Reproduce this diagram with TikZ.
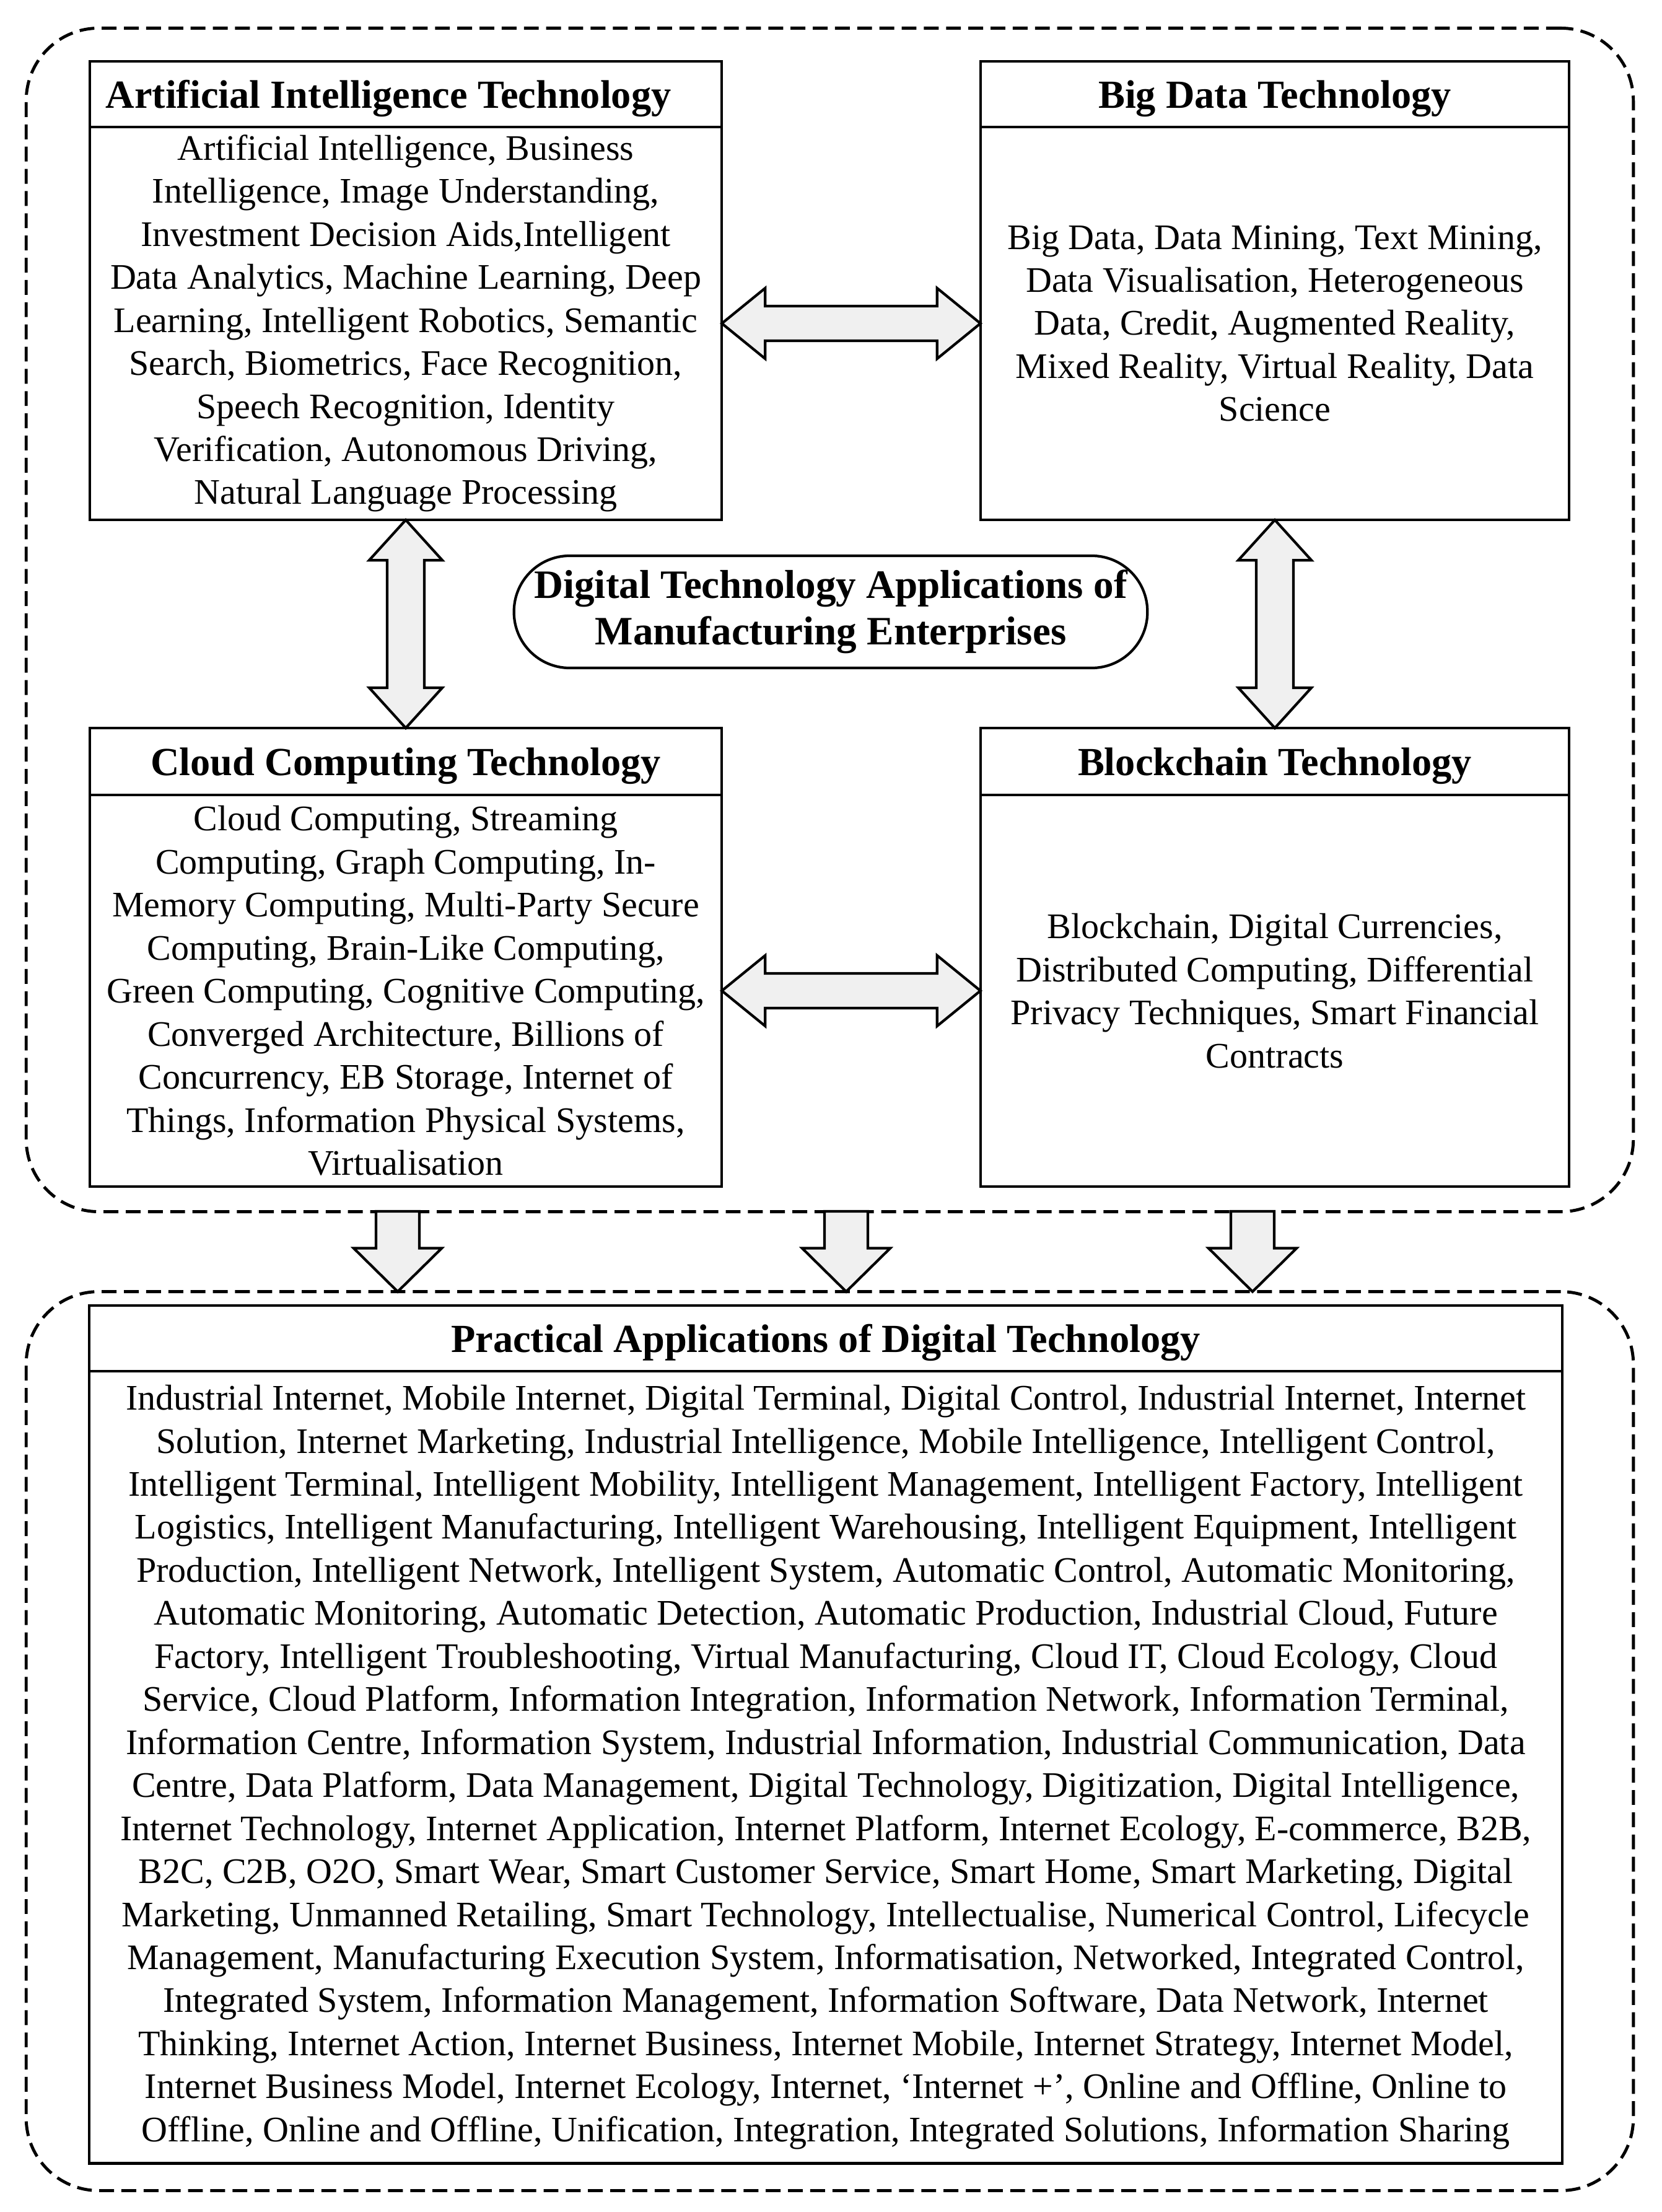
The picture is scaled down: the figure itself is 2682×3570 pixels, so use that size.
\documentclass[tikz,border=0pt]{standalone}
\usepackage{fontspec}
\setmainfont{Liberation Serif}
\usetikzlibrary{calc}
\tikzset{
 boxline/.style={draw=black, line width=1.2pt, inner sep=0pt, outer sep=0pt, fill=white},
 headbox/.style={boxline, font=\fontsize{18.3}{21.4}\selectfont\bfseries, align=center, text depth=0pt},
 bodybox/.style={boxline, font=\fontsize{16.5}{19.75}\selectfont, align=center},
 dashbox/.style={draw=black, line width=1.4pt, dash pattern=on 6.8pt off 3.4pt, rounded corners=1.17cm, inner sep=0pt, outer sep=0pt},
 titlebox/.style={boxline, rounded corners=0.9cm, font=\fontsize{18.5}{21.4}\selectfont\bfseries, align=center},
 blockarrow/.style={draw=black, line width=1.2pt, fill=black!6, line join=miter},
}
\newcommand{\HArr}[2]{\draw[blockarrow] (#1) -- ($(#1)+(70,-57)$) -- ($(#1)+(70,-28)$) -- ($(#2)+(-70,-28)$) -- ($(#2)+(-70,-57)$) -- (#2) -- ($(#2)+(-70,57)$) -- ($(#2)+(-70,28)$) -- ($(#1)+(70,28)$) -- ($(#1)+(70,57)$) -- cycle;}
\newcommand{\VArr}[2]{\draw[blockarrow] (#1) -- ($(#1)+(59,65)$) -- ($(#1)+(30,65)$) -- ($(#2)+(30,-65)$) -- ($(#2)+(59,-65)$) -- (#2) -- ($(#2)+(-59,-65)$) -- ($(#2)+(-30,-65)$) -- ($(#1)+(-30,65)$) -- ($(#1)+(-59,65)$) -- cycle;}
\newcommand{\DArr}[2]{\draw[blockarrow] ($(#1)+(-35,0)$) -- ($(#2)+(-35,-70)$) -- ($(#2)+(-71,-70)$) -- (#2) -- ($(#2)+(71,-70)$) -- ($(#2)+(35,-70)$) -- ($(#1)+(35,0)$) -- cycle;}
\begin{document}
\begin{tikzpicture}[x=0.01cm, y=-0.01cm]
\useasboundingbox (0,0) rectangle (2682,3570);
% dashed groups
\node[dashbox, minimum width=25.93cm, minimum height=19.09cm] (upper) at (1339.5,1000.5) {};
\node[dashbox, minimum width=25.93cm, minimum height=14.50cm] (lower) at (1339.5,2810) {};
% AI
\node[headbox, minimum width=10.2cm, minimum height=1.06cm] (aiH) at (655,152) {Artificial Intelligence Technology\hspace*{0.56cm}};
\node[bodybox, minimum width=10.2cm, minimum height=6.34cm] (aiB) at (655,522) {Artificial Intelligence, Business\\Intelligence, Image Understanding,\\Investment Decision Aids,Intelligent\\Data Analytics, Machine Learning, Deep\\Learning, Intelligent Robotics, Semantic\\Search, Biometrics, Face Recognition,\\Speech Recognition, Identity\\Verification, Autonomous Driving,\\Natural Language Processing};
% Big Data
\node[headbox, minimum width=9.50cm, minimum height=1.06cm] (bdH) at (2058,152) {Big Data Technology};
\node[bodybox, minimum width=9.50cm, minimum height=6.34cm] (bdB) at (2058,522) {Big Data, Data Mining, Text Mining,\\Data Visualisation, Heterogeneous\\Data, Credit, Augmented Reality,\\Mixed Reality, Virtual Reality, Data\\Science};
% Cloud
\node[headbox, minimum width=10.2cm, minimum height=1.08cm] (ccH) at (655,1229) {Cloud Computing Technology};
\node[bodybox, minimum width=10.2cm, minimum height=6.32cm] (ccB) at (655,1599) {Cloud Computing, Streaming\\Computing, Graph Computing, In-\\Memory Computing, Multi-Party Secure\\Computing, Brain-Like Computing,\\Green Computing, Cognitive Computing,\\Converged Architecture, Billions of\\Concurrency, EB Storage, Internet of\\Things, Information Physical Systems,\\Virtualisation};
% Blockchain
\node[headbox, minimum width=9.50cm, minimum height=1.08cm] (bcH) at (2058,1229) {Blockchain Technology};
\node[bodybox, minimum width=9.50cm, minimum height=6.32cm] (bcB) at (2058,1599) {Blockchain, Digital Currencies,\\Distributed Computing, Differential\\Privacy Techniques, Smart Financial\\Contracts};
% centre title
\node[titlebox, minimum width=10.22cm, minimum height=1.81cm] (title) at (1341,987.5) {Digital Technology Applications of\\Manufacturing Enterprises};
% practical
\node[headbox, minimum width=23.76cm, minimum height=1.06cm] (paH) at (1333,2160) {Practical Applications of Digital Technology};
\node[bodybox, minimum width=23.76cm, minimum height=12.78cm] (paB) at (1333,2852) {Industrial Internet, Mobile Internet, Digital Terminal, Digital Control, Industrial Internet, Internet\\
Solution, Internet Marketing, Industrial Intelligence, Mobile Intelligence, Intelligent Control,\\
Intelligent Terminal, Intelligent Mobility, Intelligent Management, Intelligent Factory, Intelligent\\
Logistics, Intelligent Manufacturing, Intelligent Warehousing, Intelligent Equipment, Intelligent\\
Production, Intelligent Network, Intelligent System, Automatic Control, Automatic Monitoring,\\
Automatic Monitoring, Automatic Detection, Automatic Production, Industrial Cloud, Future\\
Factory, Intelligent Troubleshooting, Virtual Manufacturing, Cloud IT, Cloud Ecology, Cloud\\
Service, Cloud Platform, Information Integration, Information Network, Information Terminal,\\
Information Centre, Information System, Industrial Information, Industrial Communication, Data\\
Centre, Data Platform, Data Management, Digital Technology, Digitization, Digital Intelligence,\\
Internet Technology, Internet Application, Internet Platform, Internet Ecology, E-commerce, B2B,\\
B2C, C2B, O2O, Smart Wear, Smart Customer Service, Smart Home, Smart Marketing, Digital\\
Marketing, Unmanned Retailing, Smart Technology, Intellectualise, Numerical Control, Lifecycle\\
Management, Manufacturing Execution System, Informatisation, Networked, Integrated Control,\\
Integrated System, Information Management, Information Software, Data Network, Internet\\
Thinking, Internet Action, Internet Business, Internet Mobile, Internet Strategy, Internet Model,\\
Internet Business Model, Internet Ecology, Internet, ‘Internet +’, Online and Offline, Online to\\
Offline, Online and Offline, Unification, Integration, Integrated Solutions, Information Sharing};
% connectors
\HArr{aiB.east}{bdB.west}
\HArr{ccB.east}{bcB.west}
\VArr{aiB.south}{ccH.north}
\VArr{bdB.south}{bcH.north}
\coordinate (s1) at (642,1955);
\coordinate (s2) at (1366,1955);
\coordinate (s3) at (2022,1955);
\DArr{s1}{s1 |- lower.north}
\DArr{s2}{s2 |- lower.north}
\DArr{s3}{s3 |- lower.north}
\end{tikzpicture}
\end{document}
